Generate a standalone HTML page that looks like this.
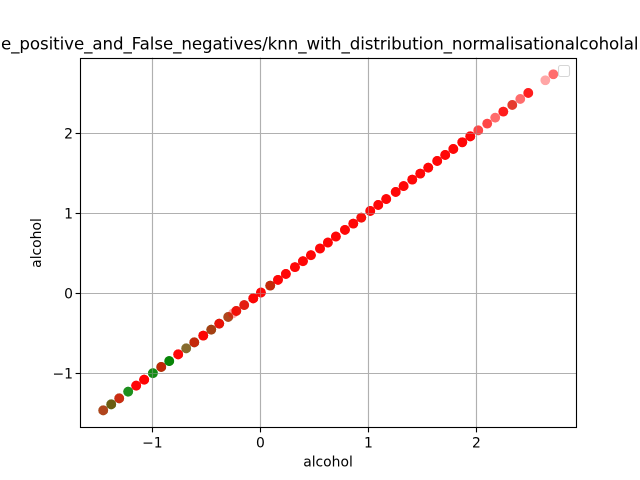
<!DOCTYPE html>
<html>
<head>
<meta charset="utf-8">
<title>alcohol scatter</title>
<style>
html,body{margin:0;padding:0;background:#fff;}
#figure{display:block;width:640px;height:480px;overflow:hidden;}
text{font-family:"DejaVu Sans",sans-serif;fill:#000;}
</style>
</head>
<body>
<svg id="figure" xmlns="http://www.w3.org/2000/svg" width="640" height="480" viewBox="0 0 640 480">
  <rect x="0" y="0" width="640" height="480" fill="#fff"/>
  <g id="grid"></g>
  <g id="points"></g>
  <g id="gridOverlay" opacity="0.45"></g>
  <g id="ticks"></g>
  <rect x="80.5" y="58.5" width="496" height="369" fill="none" stroke="#000" stroke-width="1.11"/>
  <rect x="558.5" y="65.5" width="11" height="11" rx="2" ry="2" fill="#fff" fill-opacity="0.8" stroke="#ccc" stroke-opacity="0.8" stroke-width="1.11"/>
  <text x="1" y="49.5" font-size="16.67" textLength="637.5" lengthAdjust="spacing">e_positive_and_False_negatives/knn_with_distribution_normalisationalcoholal</text>
  <text x="328" y="466.5" font-size="13.89" text-anchor="middle">alcohol</text>
  <text x="0" y="0" font-size="13.89" text-anchor="middle" transform="translate(41 243) rotate(-90)">alcohol</text>
</svg>
<script>
const xValues = [-1.455,-1.381,-1.307,-1.224,-1.150,-1.076,-0.995,-0.918,-0.844,-0.761,-0.687,-0.612,-0.529,-0.455,-0.381,-0.298,-0.254,-0.223,-0.150,-0.066,0.005,0.091,0.163,0.236,0.320,0.394,0.468,0.552,0.625,0.699,0.783,0.860,0.934,1.017,1.091,1.165,1.253,1.326,1.406,1.480,1.554,1.637,1.711,1.786,1.869,1.943,2.017,2.100,2.174,2.249,2.332,2.406,2.480,2.638,2.712];
const yValues = [-1.463,-1.388,-1.313,-1.230,-1.155,-1.080,-0.999,-0.921,-0.847,-0.763,-0.688,-0.613,-0.529,-0.455,-0.380,-0.296,-0.252,-0.221,-0.147,-0.063,0.009,0.096,0.168,0.242,0.327,0.401,0.476,0.560,0.634,0.709,0.793,0.871,0.945,1.029,1.104,1.178,1.267,1.340,1.421,1.496,1.570,1.654,1.729,1.804,1.888,1.962,2.037,2.121,2.195,2.271,2.354,2.429,2.504,2.663,2.738];
const greenCounts = [3,5,3,5,0,0,6,5,8,0,3,4,1,4,3,3,0,2,2,1,0,4,0,0,0,0,0,0,0,0,0,0,1,0,0,0,0,0,0,0,0,0,0,0,0,0,0,0,0,0,1,0,0,0,0];
const redCounts = [2,1,3,0,8,10,0,3,0,8,1,3,8,2,5,2,1,5,4,8,8,3,8,8,8,8,8,8,8,8,8,8,6,8,8,8,8,8,8,8,8,8,8,8,8,8,3,3,2,5,3,2,5,1,2];
const xTickValues = [-1,0,1,2];
const yTickValues = [-1,0,1,2];
const xTickLabels = ["\u22121","0","1","2"];
const yTickLabels = ["\u22121","0","1","2"];

const SVG_NS = "http://www.w3.org/2000/svg";
const plotLeft = 80, plotRight = 576, plotTop = 57.6, plotBottom = 427.2;
const xMin = -1.67, xMax = 2.922, yMin = -1.674, yMax = 2.946;
const markerRadius = 4.9, markerAlpha = 0.35;

function xScale(v) { return plotLeft + (v - xMin) / (xMax - xMin) * (plotRight - plotLeft); }
function yScale(v) { return plotBottom - (v - yMin) / (yMax - yMin) * (plotBottom - plotTop); }
function snap(p) { return Math.floor(p) + 0.5; }
function make(tag, parent) {
  const el = document.createElementNS(SVG_NS, tag);
  parent.appendChild(el);
  return el;
}
function addCircle(group, i, colour) {
  const c = make("circle", group);
  
  
  c.setAttribute("cx", xScale(xValues[i]));
  c.setAttribute("cy", yScale(yValues[i]));
  c.setAttribute("r", markerRadius);
  c.setAttribute("fill", colour);
  c.setAttribute("fill-opacity", markerAlpha);
}
function addGridLine(parent, name, x1, y1, x2, y2) {
  const g = make("line", parent);
  
  
  g.setAttribute("x1", x1); g.setAttribute("x2", x2);
  g.setAttribute("y1", y1); g.setAttribute("y2", y2);
  g.setAttribute("stroke", "#b0b0b0"); g.setAttribute("stroke-width", "1.11");
}

const pointsLayer = document.getElementById("points");
xValues.forEach(function (v, i) {
  for (let n = 0; n < greenCounts[i]; n++) addCircle(pointsLayer, i, "#008000");
});
xValues.forEach(function (v, i) {
  for (let n = 0; n < redCounts[i]; n++) addCircle(pointsLayer, i, "#ff0000");
});

const gridLayer = document.getElementById("grid");
const gridOverlayLayer = document.getElementById("gridOverlay");
const tickLayer = document.getElementById("ticks");

xTickValues.forEach(function (v, i) {
  const px = snap(xScale(v));
  addGridLine(gridLayer, 'x-grid-line', px, plotTop, px, plotBottom);
  addGridLine(gridOverlayLayer, 'x-grid-line-overlay', px, plotTop, px, plotBottom);
  const t = make("line", tickLayer);
  
  
  t.setAttribute("x1", px); t.setAttribute("x2", px);
  t.setAttribute("y1", 427.5); t.setAttribute("y2", 432.4);
  t.setAttribute("stroke", "#000"); t.setAttribute("stroke-width", "1.11");
  const l = make("text", tickLayer);
  
  
  l.setAttribute("x", xScale(v)); l.setAttribute("y", 447.5);
  l.setAttribute("font-size", "13.89");
  l.setAttribute("text-anchor", "middle");
  l.textContent = xTickLabels[i];
});

yTickValues.forEach(function (v, i) {
  const py = snap(yScale(v));
  addGridLine(gridLayer, 'y-grid-line', plotLeft, py, plotRight, py);
  addGridLine(gridOverlayLayer, 'y-grid-line-overlay', plotLeft, py, plotRight, py);
  const t = make("line", tickLayer);
  
  
  t.setAttribute("x1", plotLeft - 4.4); t.setAttribute("x2", plotLeft + 0.5);
  t.setAttribute("y1", py); t.setAttribute("y2", py);
  t.setAttribute("stroke", "#000"); t.setAttribute("stroke-width", "1.11");
  const l = make("text", tickLayer);
  
  
  l.setAttribute("x", 73); l.setAttribute("y", yScale(v) + 5.2);
  l.setAttribute("font-size", "13.89");
  l.setAttribute("text-anchor", "end");
  l.textContent = yTickLabels[i];
});
</script>
</body>
</html>
